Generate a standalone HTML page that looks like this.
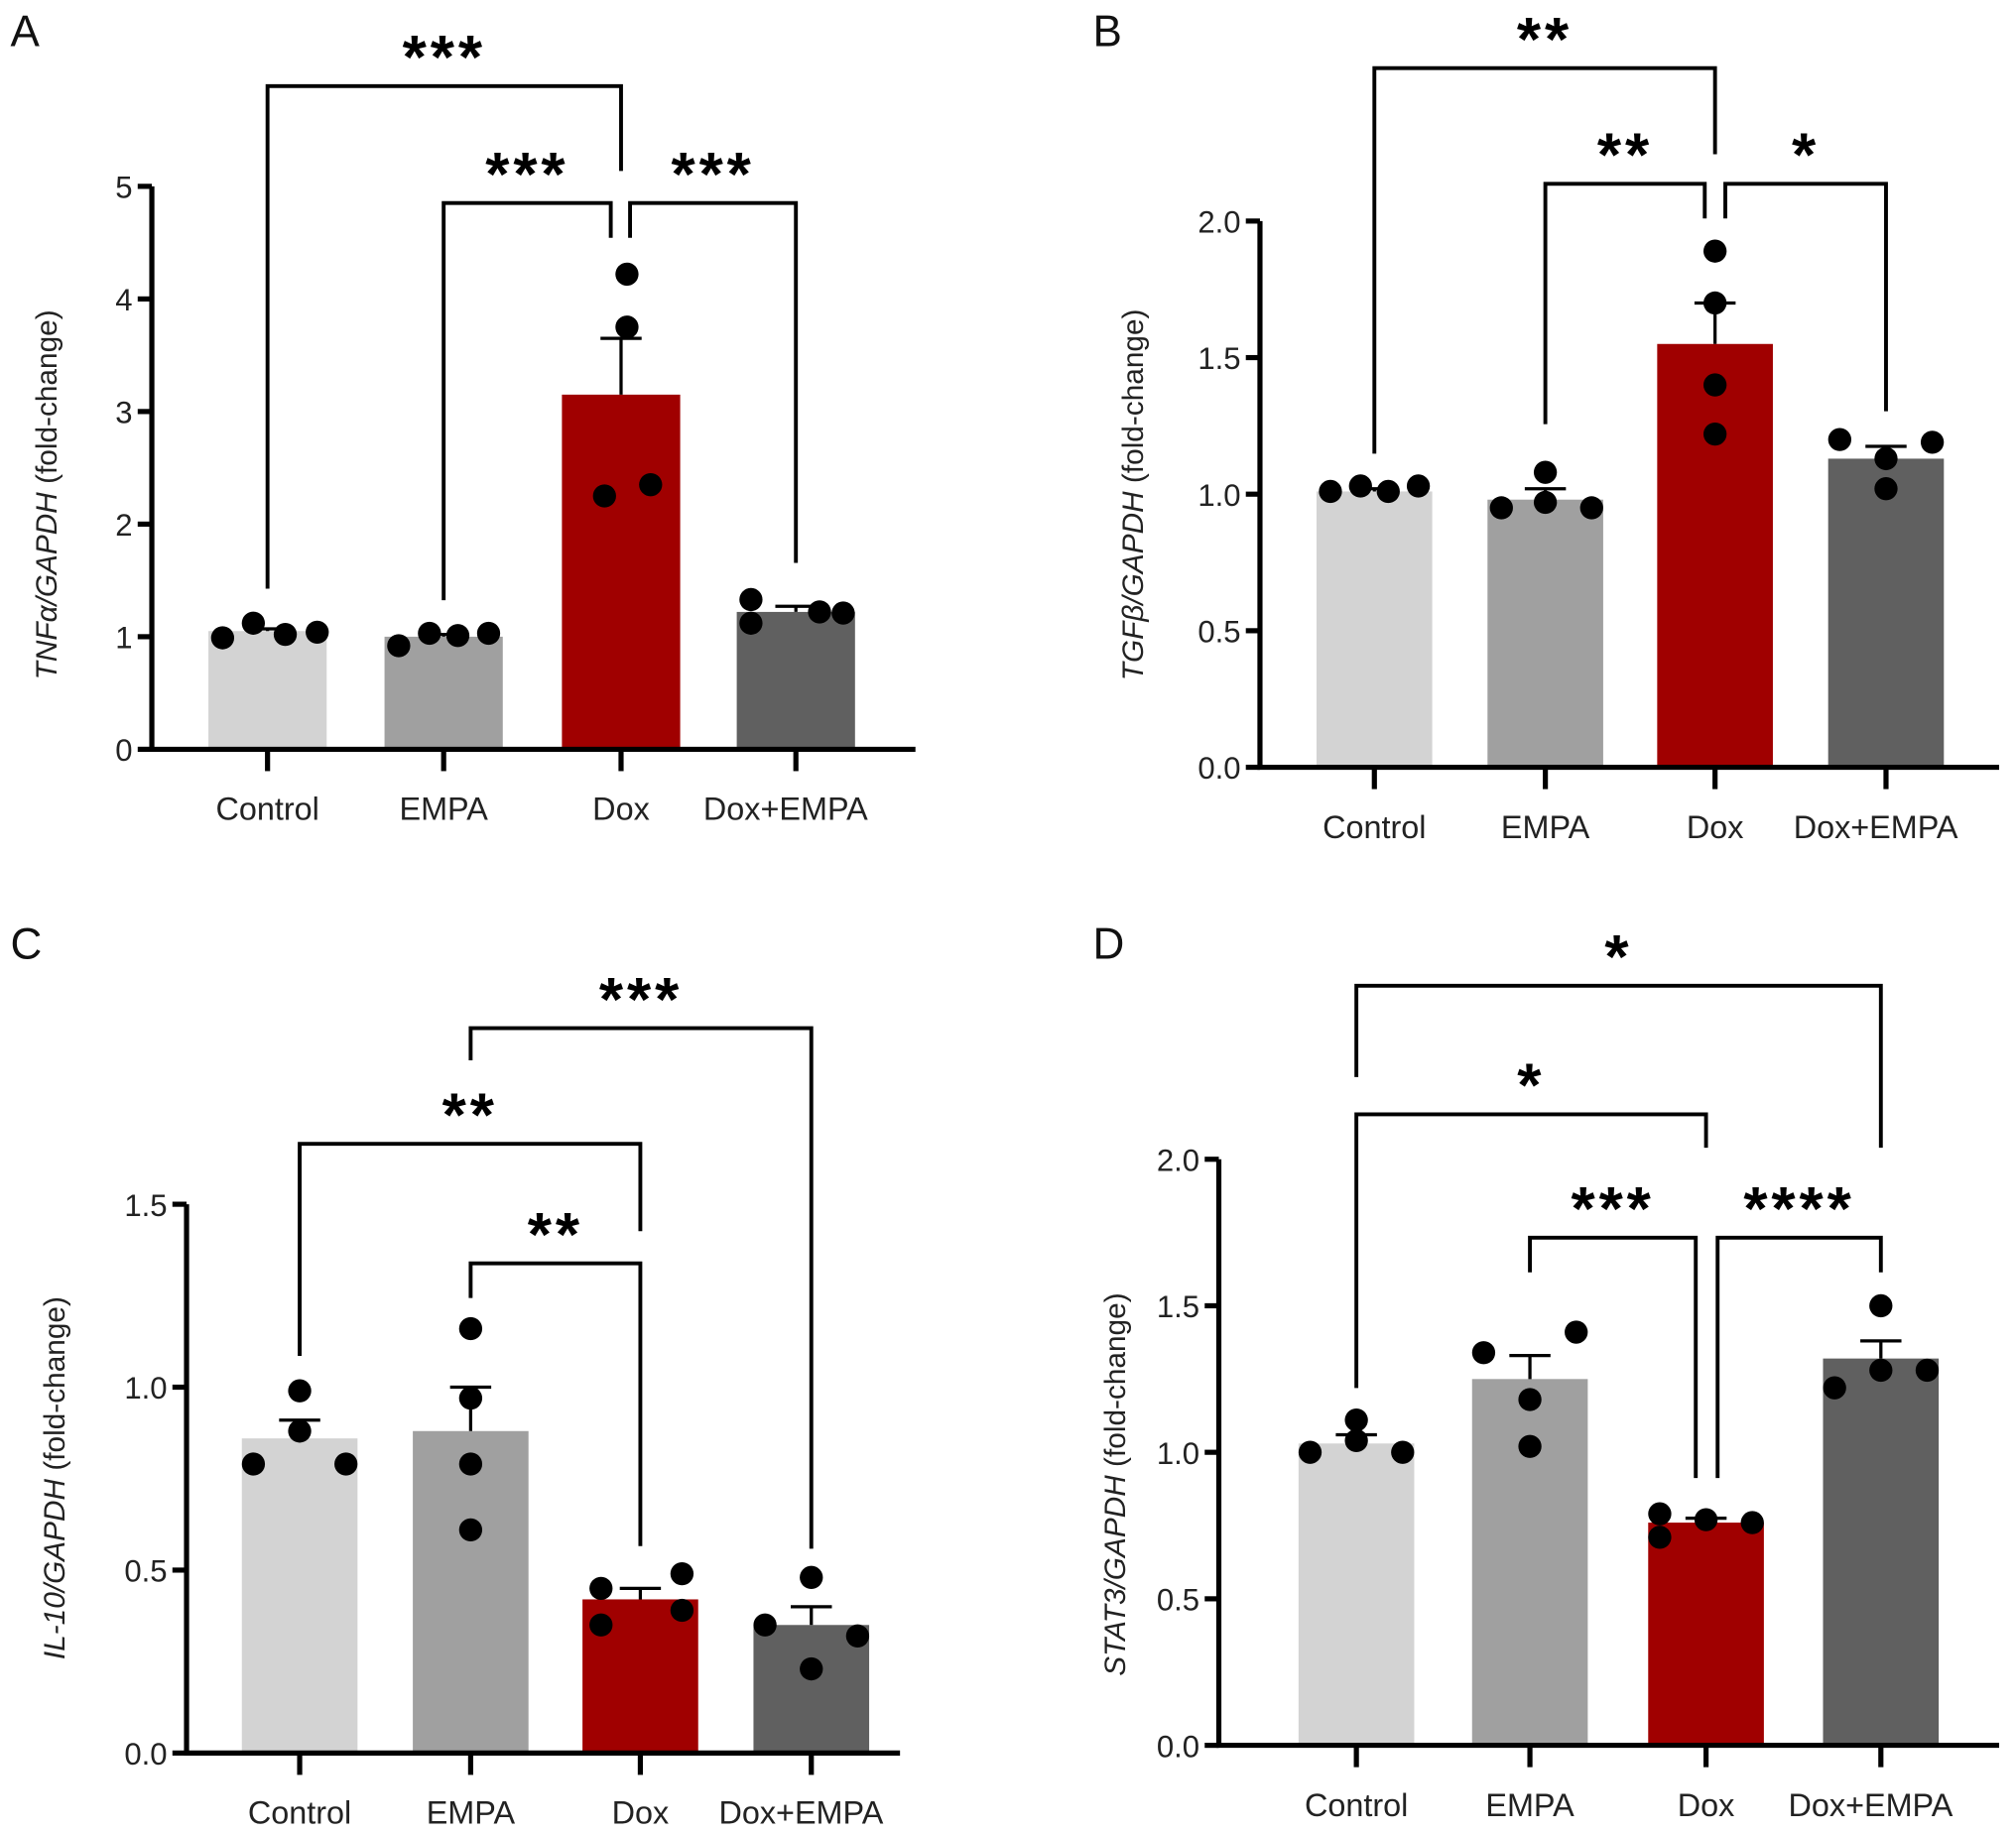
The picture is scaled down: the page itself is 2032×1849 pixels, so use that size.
<!DOCTYPE html>
<html><head><meta charset="utf-8"><style>
html,body{margin:0;padding:0;background:#fff;}
svg{display:block;font-family:"Liberation Sans",Arial,sans-serif;}
</style></head><body>
<svg id="fig" width="2032" height="1849" viewBox="0 0 1568 1427"></svg>
<script>
const categories = ["Control","EMPA","Dox","Dox+EMPA"];
const colors = ["#d3d3d3","#a0a0a0","#a00000","#606060"];
// Panel A
const meansA = [1.05, 1.00, 3.15, 1.22];
const semA = [1.07, 1.02, 3.65, 1.27];
const ptsA = [[0.99,1.12,1.02,1.04],[0.92,1.03,1.01,1.03],[4.22,3.75,2.25,2.35],[1.33,1.12,1.22,1.21]];
const jitA = [[-0.38,-0.12,0.15,0.42],[-0.38,-0.12,0.12,0.38],[0.05,0.05,-0.14,0.25],[-0.38,-0.38,0.2,0.4]];
const ticksA = ["0","1","2","3","4","5"];
// Panel B
const meansB = [1.01, 0.98, 1.55, 1.13];
const semB = [1.02, 1.02, 1.70, 1.175];
const ptsB = [[1.01,1.03,1.01,1.03],[0.95,1.08,0.97,0.95],[1.89,1.70,1.40,1.22],[1.20,1.13,1.02,1.19]];
const jitB = [[-0.38,-0.12,0.12,0.38],[-0.38,0,0,0.4],[0,0,0,0],[-0.4,0,0,0.4]];
const ticksB = ["0.0","0.5","1.0","1.5","2.0"];
// Panel C
const meansC = [0.86, 0.88, 0.42, 0.35];
const semC = [0.91, 1.00, 0.45, 0.40];
const ptsC = [[0.99,0.88,0.79,0.79],[1.16,0.97,0.79,0.61],[0.45,0.49,0.35,0.39],[0.48,0.35,0.32,0.23]];
const jitC = [[0,0,-0.4,0.4],[0,0,0,0],[-0.34,0.36,-0.34,0.36],[0,-0.4,0.4,0]];
const ticksC = ["0.0","0.5","1.0","1.5"];
// Panel D
const meansD = [1.03, 1.25, 0.76, 1.32];
const semD = [1.06, 1.33, 0.775, 1.38];
const ptsD = [[1.00,1.11,1.04,1.00],[1.34,1.41,1.18,1.02],[0.79,0.71,0.77,0.76],[1.50,1.22,1.28,1.28]];
const jitD = [[-0.4,0,0,0.4],[-0.4,0.4,0,0],[-0.4,-0.4,0,0.4],[0,-0.4,0,0.4]];
const ticksD = ["0.0","0.5","1.0","1.5","2.0"];

const NS="http://www.w3.org/2000/svg";
const svg=document.getElementById('fig');
function mk(tag,attrs,parent){const e=document.createElementNS(NS,tag);for(const k in attrs)e.setAttribute(k,attrs[k]);(parent||svg).appendChild(e);return e;}

const panels=[
 {id:'a',letter:'A',lx:8,ly:36,x0:118,x1:712,y0:583,ytop:145,vmax:5,step:1,ticks:ticksA,centers:[208,345,483,619],bw:92,means:meansA,sem:semA,pts:ptsA,jit:jitA,
  gene:'TNFα',ylx:44,yly:385,
  br:[{x1:208,x2:483,y:67,l:458,r:133,s:'***'},{x1:345,x2:475,y:158,l:467,r:185,s:'***'},{x1:490,x2:619,y:158,l:185,r:438,s:'***'}]},
 {id:'b',letter:'B',lx:850,ly:36,x0:980,x1:1555,y0:597,ytop:172,vmax:2,step:0.5,ticks:ticksB,centers:[1069,1202,1334,1467],bw:90,means:meansB,sem:semB,pts:ptsB,jit:jitB,
  gene:'TGFβ',ylx:889,yly:385,
  br:[{x1:1069,x2:1334,y:53,l:353,r:120,s:'**'},{x1:1202,x2:1326,y:143,l:330,r:170,s:'**'},{x1:1342,x2:1467,y:143,l:170,r:320,s:'*'}]},
 {id:'c',letter:'C',lx:8,ly:746,x0:145,x1:700,y0:1364,ytop:937,vmax:1.5,step:0.5,ticks:ticksC,centers:[233,366,498,631],bw:90,means:meansC,sem:semC,pts:ptsC,jit:jitC,
  gene:'IL-10',ylx:50,yly:1150,
  br:[{x1:366,x2:631,y:800,l:825,r:1205,s:'***'},{x1:233,x2:498,y:890,l:1055,r:958,s:'**'},{x1:366,x2:498,y:983,l:1010,r:1203,s:'**'}]},
 {id:'d',letter:'D',lx:850,ly:746,x0:948,x1:1555,y0:1358,ytop:902,vmax:2,step:0.5,ticks:ticksD,centers:[1055,1190,1327,1463],bw:90,means:meansD,sem:semD,pts:ptsD,jit:jitD,
  gene:'STAT3',ylx:875,yly:1155,
  br:[{x1:1055,x2:1463,y:767,l:838,r:893,s:'*'},{x1:1055,x2:1327,y:867,l:1080,r:893,s:'*'},{x1:1190,x2:1319,y:963,l:990,r:1150,s:'***'},{x1:1336,x2:1463,y:963,l:1150,r:990,s:'****'}]}
];

panels.forEach(p=>{
  const g=mk('g',{});
  
  
  const ys=v=>p.y0-(p.y0-p.ytop)*v/p.vmax;
  const lab=mk('text',{x:p.lx,y:p.ly,'font-size':34,fill:'#111'},g);lab.textContent=p.letter;
  
  p.means.forEach((m,i)=>{
    const b=mk('rect',{x:p.centers[i]-p.bw/2,y:ys(m),width:p.bw,height:p.y0-ys(m),fill:colors[i]},g);
    
    
    const e=mk('path',{d:`M${p.centers[i]},${ys(m)}V${ys(p.sem[i])}M${p.centers[i]-16},${ys(p.sem[i])}H${p.centers[i]+16}`,stroke:'#000','stroke-width':2.5,fill:'none'},g);
    
  });
  p.pts.forEach((arr,i)=>arr.forEach((v,k)=>{
    const c=mk('circle',{cx:p.centers[i]+p.jit[i][k]*p.bw,cy:ys(v),r:9,fill:'#000'},g);
    
  }));
  const ax=mk('path',{d:`M${p.x0},${p.ytop}V${p.y0}H${p.x1}`,stroke:'#000','stroke-width':4,fill:'none'},g);
  
  p.ticks.forEach((t,i)=>{
    const y=ys(i*p.step);
    mk('line',{x1:p.x0-11,x2:p.x0,y1:y,y2:y,stroke:'#000','stroke-width':4},g);
    const tt=mk('text',{x:p.x0-15,y:y+9,'font-size':24,'text-anchor':'end',fill:'#222'},g);tt.textContent=t;
    
  });
  categories.forEach((c,i)=>{
    mk('line',{x1:p.centers[i],x2:p.centers[i],y1:p.y0,y2:p.y0+17,stroke:'#000','stroke-width':4},g);
    const tt=mk('text',{x:p.centers[i]-(i==3?8:0),y:p.y0+55,'font-size':25,'text-anchor':'middle',fill:'#222'},g);tt.textContent=c;
    
  });
  const yl=mk('text',{x:p.ylx,y:p.yly,'font-size':23,'text-anchor':'middle',fill:'#222',transform:`rotate(-90 ${p.ylx} ${p.yly})`},g);
  
  const it=mk('tspan',{'font-style':'italic'},yl);it.textContent=p.gene+'/GAPDH';
  const rt=mk('tspan',{},yl);rt.textContent=' (fold-change)';
  p.br.forEach(b=>{
    const pth=mk('path',{d:`M${b.x1},${b.l}V${b.y}H${b.x2}V${b.r}`,stroke:'#000','stroke-width':3,fill:'none'},g);
    
    const st=mk('text',{x:(b.x1+b.x2)/2,y:b.y-6,'font-size':48,'font-weight':'bold','text-anchor':'middle','letter-spacing':'3',fill:'#000'},g);
    st.textContent=b.s;
    
  });
});
</script>
</body></html>
